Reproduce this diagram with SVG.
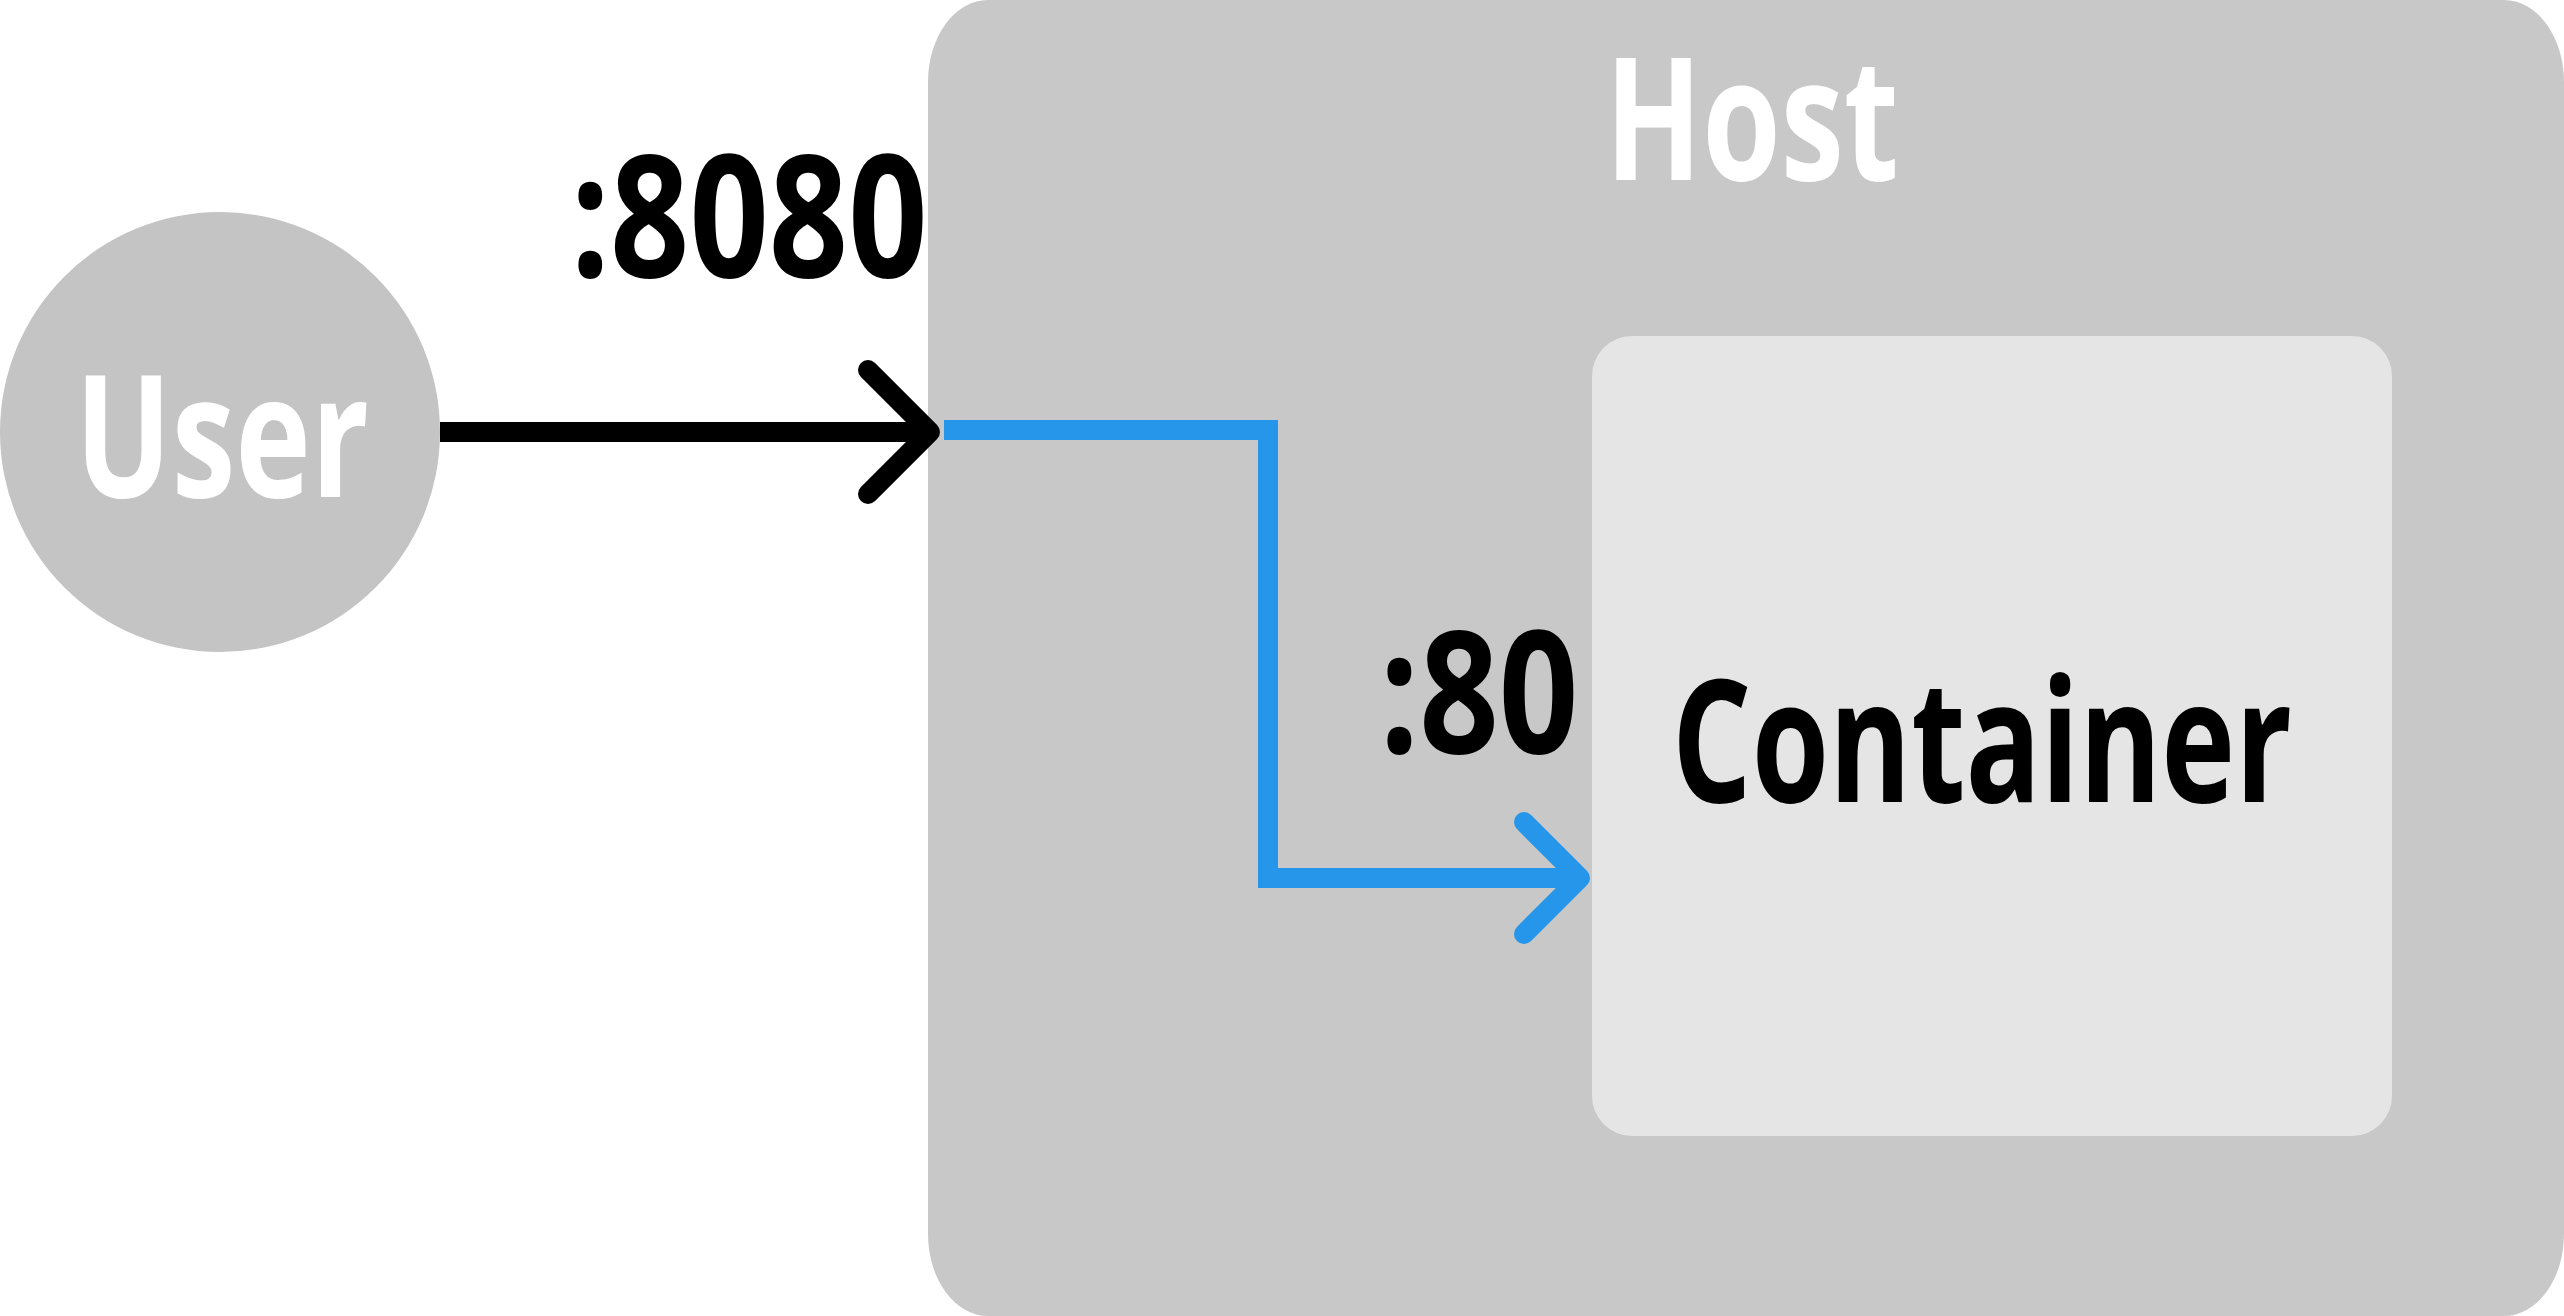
<svg xmlns="http://www.w3.org/2000/svg" width="2564" height="1316" viewBox="0 0 2564 1316">
<style>
.lbl{font-family:"Open Sans","Noto Sans","DejaVu Sans",sans-serif;font-weight:700;font-size:171px;text-anchor:middle}
.w{fill:#ffffff}
.k{fill:#000000}
.conn{fill:none;stroke-width:20}
.head{fill:none;stroke-width:20;stroke-linecap:round;stroke-linejoin:round}
</style>
<rect width="2564" height="1316" fill="#ffffff"/>
<g id="host">
<rect x="928" y="0" width="1636" height="1316" rx="60" ry="82" fill="#c8c8c8"/>
<text class="lbl w" x="1752" y="180" textLength="294" lengthAdjust="spacingAndGlyphs">Host</text>
</g>
<g id="container">
<rect x="1592" y="336" width="800" height="800" rx="40" ry="40" fill="#e5e5e5"/>
<text class="lbl k" x="1982" y="802" textLength="620" lengthAdjust="spacingAndGlyphs">Container</text>
</g>
<g id="user">
<circle cx="220" cy="432" r="220" fill="#c4c4c4"/>
<text class="lbl w" x="222" y="497" textLength="294" lengthAdjust="spacingAndGlyphs">User</text>
</g>
<g id="connectors">
<line class="conn" x1="440" y1="432" x2="930" y2="432" stroke="#000000"/>
<polyline class="head" points="868,370 930,432 868,494" stroke="#000000"/>
<polyline class="conn" points="944,430 1268,430 1268,878 1580,878" stroke="#2596e9"/>
<polyline class="head" points="1524,822 1580,878 1524,934" stroke="#2596e9"/>
</g>
<g id="labels">
<text class="lbl k" x="749" y="277" textLength="357" lengthAdjust="spacingAndGlyphs">:8080</text>
<text class="lbl k" x="1479" y="753" textLength="199" lengthAdjust="spacingAndGlyphs">:80</text>
</g>
</svg>
